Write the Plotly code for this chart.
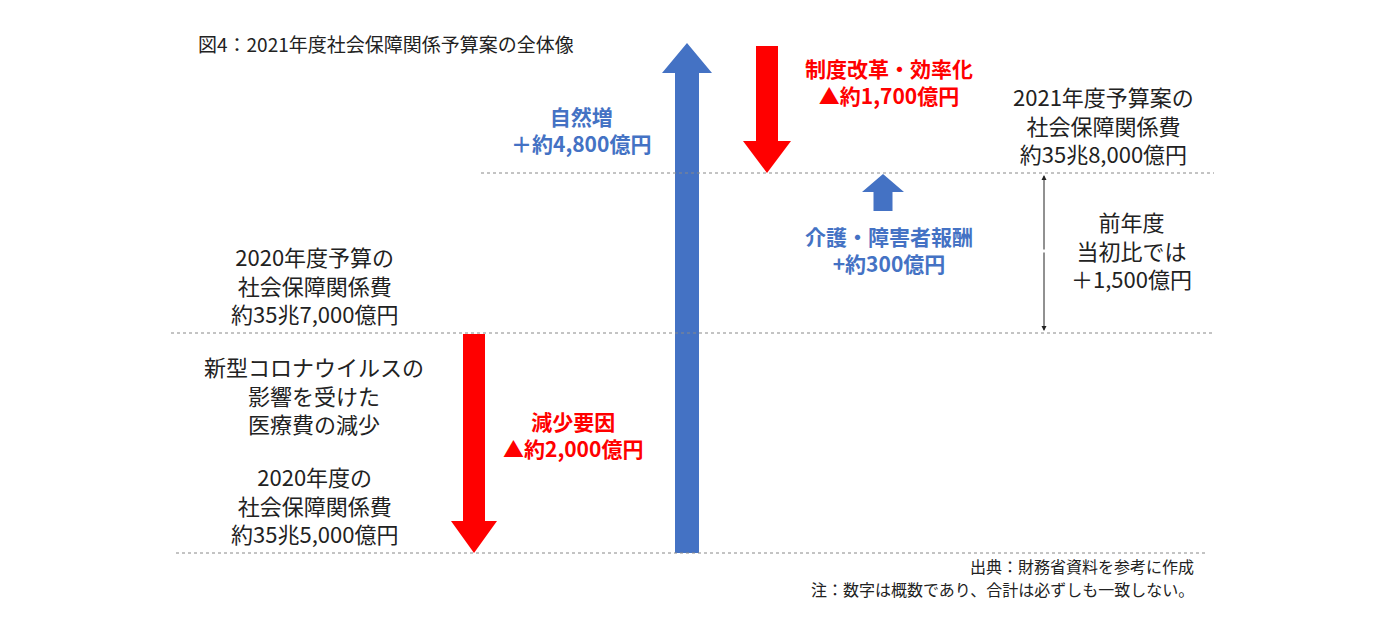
import plotly.graph_objects as go

# schematic chart: page is laid out on a 1389 x 626 data grid
W, H = 1389, 626
OFF = 7  # page body margin of the browser
FONT = "Noto Sans CJK JP"
BLUE = "#4472C4"
RED = "#FF0000"

# arrows: x center, tail y, tip y, shaft width, head width, head length, colour
arrow_x = [473, 686, 766, 882]
arrow_tail = [333, 552, 45, 210]
arrow_tip = [552, 42, 172, 173]
arrow_shaft = [22, 24, 22, 19]
arrow_headw = [46, 50, 48, 42]
arrow_headl = [32, 30, 32, 18]
arrow_color = [RED, BLUE, RED, BLUE]

# level lines (dotted): y, x start, x end
level_y = [172, 332, 552]
level_x0 = [480, 170, 175]
level_x1 = [1213, 1213, 1205]

labels = [
    ("図4：2021年度社会保障関係予算案の全体像", 195, 42, "left", "#222", False, 19),
    ("自然増<br>＋約4,800億円", 580, 128, "center", BLUE, True, 21),
    ("制度改革・効率化<br>▲約1,700億円", 888, 80, "center", RED, True, 21),
    ("2021年度予算案の<br>社会保障関係費<br>約35兆8,000億円", 1102, 123, "center", "#222", False, 22),
    ("介護・障害者報酬<br>+約300億円", 888, 248, "center", BLUE, True, 21),
    ("前年度<br>当初比では<br>＋1,500億円", 1130, 248, "center", "#222", False, 22),
    ("2020年度予算の<br>社会保障関係費<br>約35兆7,000億円", 313, 283, "center", "#222", False, 22),
    ("新型コロナウイルスの<br>影響を受けた<br>医療費の減少", 313, 393, "center", "#222", False, 22),
    ("減少要因<br>▲約2,000億円", 572, 433, "center", RED, True, 21),
    ("2020年度の<br>社会保障関係費<br>約35兆5,000億円", 313, 503, "center", "#222", False, 22),
    ("出典：財務省資料を参考に作成", 1195, 565, "right", "#222", False, 16),
    ("注：数字は概数であり、合計は必ずしも一致しない。", 1195, 588, "right", "#222", False, 16),
]

fig = go.Figure()

for x, t0, t1, sw, hw, hl, c in zip(arrow_x, arrow_tail, arrow_tip, arrow_shaft,
                                     arrow_headw, arrow_headl, arrow_color):
    d = 1 if t1 > t0 else -1
    base = t1 - d * hl
    xs = [x - sw / 2, x + sw / 2, x + sw / 2, x + hw / 2, x, x - hw / 2, x - sw / 2, x - sw / 2]
    ys = [t0, t0, base, base, t1, base, base, t0]
    fig.add_trace(go.Scatter(x=xs, y=ys, fill="toself", fillcolor=c, mode="lines",
                             line=dict(width=0, color=c), hoverinfo="skip", showlegend=False))

for y, x0, x1 in zip(level_y, level_x0, level_x1):
    fig.add_shape(type="line", x0=x0, x1=x1, y0=y, y1=y,
                  line=dict(color="#888", width=1, dash="dot"))

# double-headed difference marker
for tip, tail in [(174, 250), (330, 250)]:
    fig.add_annotation(x=1043, y=tip, ax=1043, ay=tail, axref="x", ayref="y",
                       showarrow=True, arrowhead=2, arrowsize=1, arrowwidth=1,
                       arrowcolor="#222", text="")

for text, x, y, al, col, bold, size in labels:
    fig.add_annotation(x=x, y=y, text=f"<b>{text}</b>" if bold else text,
                       showarrow=False, align=al,
                       xanchor=al if al != "center" else "center", yanchor="middle",
                       font=dict(family=FONT, size=size, color=col))

fig.update_xaxes(range=[OFF, W + OFF], visible=False, fixedrange=True)
fig.update_yaxes(range=[H + OFF, OFF], visible=False, fixedrange=True)
fig.update_layout(width=W, height=H, margin=dict(l=0, r=0, t=0, b=0),
                  plot_bgcolor="white", paper_bgcolor="white")

fig.write_html("out.html")
